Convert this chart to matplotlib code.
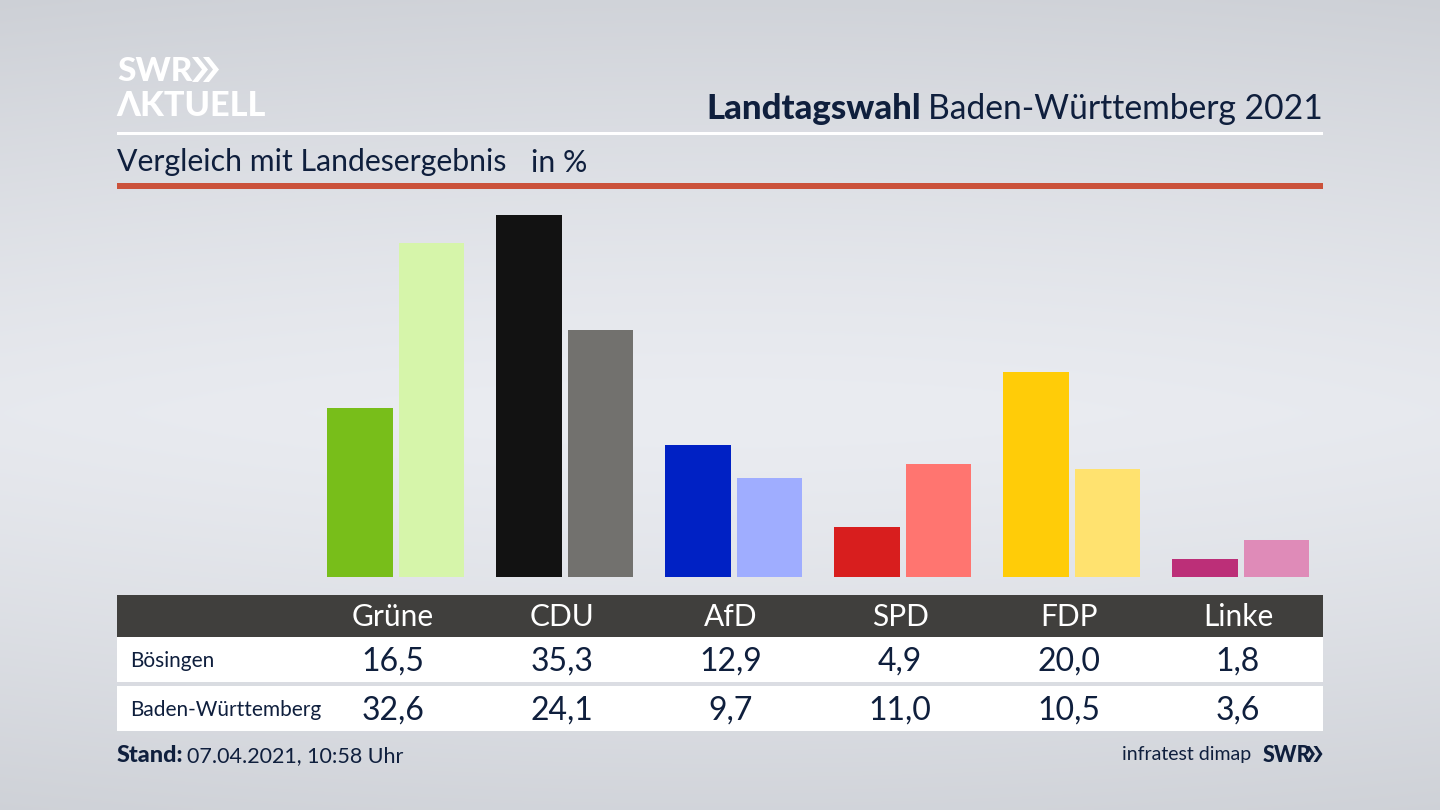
import numpy as np
import matplotlib
matplotlib.use("Agg")
import matplotlib.pyplot as plt
from matplotlib.patches import Rectangle, Polygon

parties = ["Grüne", "CDU", "AfD", "SPD", "FDP", "Linke"]
boesingen = [16.5, 35.3, 12.9, 4.9, 20.0, 1.8]
land = [32.6, 24.1, 9.7, 11.0, 10.5, 3.6]
colors_local = ["#78BE1A", "#121212", "#0021C4", "#D81E1E", "#FFCC08", "#BC2F78"]
colors_land = ["#D6F5AA", "#72716E", "#9FADFF", "#FF7570", "#FFE26F", "#DF8BB8"]
row_labels = ["Bösingen", "Baden-Württemberg"]

W, H = 1440, 810
NAVY = "#0F1F3D"
FONT = "Lato"
plt.rcParams["font.family"] = [FONT, "DejaVu Sans"]

fig = plt.figure(figsize=(W / 100, H / 100), dpi=100)

# page layer in pixel coordinates
bg = fig.add_axes([0, 0, 1, 1])
bg.set_xlim(0, W)
bg.set_ylim(H, 0)
bg.axis("off")
yy = np.abs(np.linspace(-1, 1, 256) - 0.02)[:, None]
xx = np.abs(np.linspace(-1, 1, 256))[None, :]
shade = np.clip(0.80 * yy ** 1.3 + 0.10 * xx ** 2, 0, 1)
light = np.array([234, 236, 241]) / 255
dark = np.array([203, 206, 212]) / 255
img = light[None, None, :] + shade[:, :, None] * (dark - light)[None, None, :]
bg.imshow(img, extent=(0, W, H, 0), aspect="auto", zorder=0, interpolation="bilinear")


def rect(x0, y0, x1, y1, color):
    bg.add_patch(Rectangle((x0, y0), x1 - x0, y1 - y0, fc=color, ec="none", zorder=1))


def label(x, y, s, size, color=NAVY, ha="left", weight="normal"):
    return bg.text(x, y, s, fontsize=size, color=color, ha=ha, va="center_baseline",
                   fontweight=weight, zorder=3)


def chevrons(x, y0, y1, depth, thick, gap, color):
    """Logo arrows of the SWR mark."""
    ym = (y0 + y1) / 2
    for dx in (0, gap):
        x0 = x + dx
        bg.add_patch(Polygon([(x0, y0), (x0 + thick, y0), (x0 + thick + depth, ym),
                              (x0 + thick, y1), (x0, y1), (x0 + depth, ym)],
                             closed=True, fc=color, ec="none", zorder=3))


rect(117, 132, 1323, 135, "white")
rect(117, 183, 1323, 189, "#CB523B")
rect(117, 595, 1323, 637, "#403F3D")
rect(117, 637, 1323, 682, "white")
rect(117, 686, 1323, 731, "white")

label(117, 69, "SWR", 24, "white", weight="black")
chevrons(192, 57, 82, 10, 6, 11, "white")
label(116, 103, "ΛKTUELL", 24.7, "white", weight="black")

label(1323, 106, "Baden-Württemberg 2021", 24.2, ha="right")
label(921, 106, "Landtagswahl", 25, ha="right", weight="black")
label(117, 160, "Vergleich mit Landesergebnis", 21.8)
label(531, 160, "in %", 21.8)

centers = [393 + 169 * i for i in range(len(parties))]
for c, p, a, b in zip(centers, parties, boesingen, land):
    label(c, 615, p, 21.5, "white", ha="center")
    label(c, 659, f"{a:.1f}".replace(".", ","), 23, ha="center")
    label(c, 708, f"{b:.1f}".replace(".", ","), 23, ha="center")
label(130.5, 659, row_labels[0], 15)
label(130.5, 708, row_labels[1], 15)

label(117, 754, "Stand:", 16.8, weight="black")
label(187, 754, "07.04.2021, 10:58 Uhr", 15.5)
label(1251, 753, "infratest dimap", 14, ha="right")
label(1263, 753, "SWR", 15.5, weight="black")
chevrons(1306, 746, 762, 5.5, 3.5, 7.5, NAVY)

# bars: axes spans the page width used by the layout, baseline at y=577
left, right, top, base = 117, 1323, 190, 577
ax = fig.add_axes([left / W, 1 - base / H, (right - left) / W, (base - top) / H])
ax.patch.set_alpha(0)
ax.axis("off")
step = 169
ax.set_xlim((left - 393) / step, (right - 393) / step)
ax.set_ylim(0, (base - top) / 10.25)
x = np.arange(len(parties))
ax.bar(x, boesingen, width=-66 / step, align="edge", color=colors_local)
ax.bar(x + 5.5 / step, land, width=65.5 / step, align="edge", color=colors_land)

fig.savefig("out.png", dpi=100)
